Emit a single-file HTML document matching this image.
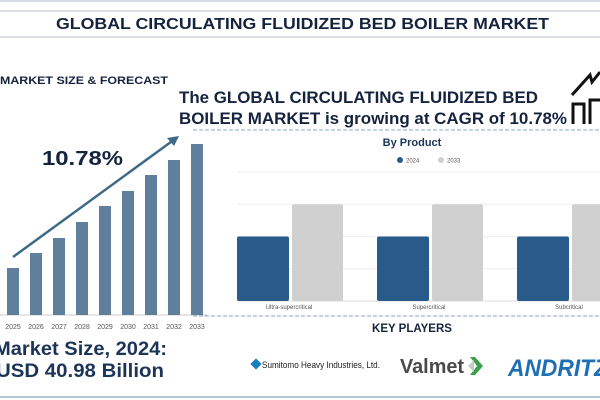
<!DOCTYPE html>
<html><head><meta charset="utf-8"><style>
html,body{margin:0;padding:0;background:#fff;width:600px;height:400px;overflow:hidden}
svg{display:block;font-family:"Liberation Sans","DejaVu Sans",sans-serif}
</style></head><body>
<svg id="root" width="600" height="400" viewBox="0 0 600 400">
<line x1="0" y1="1" x2="600" y2="1" stroke="#c9d3dc" stroke-width="1.5"/>
<line x1="0" y1="11" x2="600" y2="11" stroke="#b8c2cc" stroke-width="1"/>
<line x1="0" y1="37" x2="600" y2="37" stroke="#b8c2cc" stroke-width="1"/>
<text x="56" y="29" font-size="16" font-weight="bold" fill="#16233f" textLength="493" lengthAdjust="spacingAndGlyphs">GLOBAL CIRCULATING FLUIDIZED BED BOILER MARKET</text>
<text x="0" y="84" font-size="11" font-weight="bold" fill="#16233f" textLength="168" lengthAdjust="spacingAndGlyphs">MARKET SIZE &amp; FORECAST</text>
<text x="179" y="103" font-size="17" font-weight="bold" fill="#16233f" textLength="359" lengthAdjust="spacingAndGlyphs">The GLOBAL CIRCULATING FLUIDIZED BED</text>
<text x="179" y="124" font-size="17" font-weight="bold" fill="#16233f" textLength="388" lengthAdjust="spacingAndGlyphs">BOILER MARKET is growing at CAGR of 10.78%</text>
<g fill="none" stroke="#111" stroke-width="3">
<path d="M572 95 L590 75 L592 82 L600 72"/>
<path d="M573 124 L573 104 L584 104 L584 124"/>
<path d="M590 124 L590 100 L600 100"/>
</g>
<line x1="193" y1="130" x2="600" y2="130" stroke="#8aa6bf" stroke-width="1" stroke-dasharray="4,2"/>
<g id="left"></g>
<text x="42" y="165" font-size="20" font-weight="bold" fill="#16233f" textLength="81" lengthAdjust="spacingAndGlyphs">10.78%</text>
<text x="-6" y="355" font-size="19" font-weight="bold" fill="#1d3458" textLength="173" lengthAdjust="spacingAndGlyphs">Market Size, 2024:</text>
<text x="-4" y="377" font-size="19" font-weight="bold" fill="#1d3458" textLength="168" lengthAdjust="spacingAndGlyphs">USD 40.98 Billion</text>
<g id="right"></g>
<text x="412" y="146" text-anchor="middle" font-size="11" font-weight="bold" fill="#1d3458">By Product</text>
<line x1="193" y1="316" x2="600" y2="316" stroke="#8aa6bf" stroke-width="1" stroke-dasharray="4,2"/>
<text x="412" y="332" text-anchor="middle" font-size="11.5" font-weight="bold" fill="#16233f">KEY PLAYERS</text>
<g>
<rect x="252" y="360" width="8" height="8" fill="#1a7fc1" transform="rotate(45 256 364)"/>
<text x="262" y="368" font-size="9.5" fill="#222" textLength="118" lengthAdjust="spacingAndGlyphs">Sumitomo Heavy Industries, Ltd.</text>
</g>
<g>
<text x="400" y="373" font-size="20" font-weight="bold" fill="#4a4a4a" textLength="64" lengthAdjust="spacingAndGlyphs">Valmet</text>
<path d="M475 357 L483 366 L475 375 L470 375 L477 366 L470 357 Z" fill="#3aa048"/>
<path d="M468 366 L474 360 L474 372 Z" fill="#c8c8c8"/>
</g>
<text x="508" y="376" font-size="24" font-weight="bold" font-style="italic" fill="#1e6fb4" textLength="100" lengthAdjust="spacingAndGlyphs">ANDRITZ</text>
<line x1="0" y1="397" x2="600" y2="397" stroke="#b3c6d8" stroke-width="2"/>
</svg>
<script>
const years = ["2025","2026","2027","2028","2029","2030","2031","2032","2033"];
const forecastValues = [47,62,77,93,109,124,140,155,171];
const products = ["Ultra-supercritical","Supercritical","Subcritical"];
const values2024 = [50,50,50];
const values2033 = [75,75,75];
const productTicks = [0,25,50,75,100];
const NS="http://www.w3.org/2000/svg";
function mk(tag,attrs,parent){const e=document.createElementNS(NS,tag);for(const k in attrs)e.setAttribute(k,attrs[k]);parent.appendChild(e);return e;}
const L=document.getElementById('left');
const lx=i=>13+i*23, ly=v=>315-v*1.0;
mk('line',{x1:0,y1:315,x2:207,y2:315,stroke:'#ccc','stroke-width':1},L);
years.forEach((y,i)=>{
 const r=mk('rect',{x:lx(i)-6,y:ly(forecastValues[i]),width:12,height:315-ly(forecastValues[i]),fill:'#5f7f9c'},L);
 
 
 const t=mk('text',{x:lx(i),y:329,'text-anchor':'middle','font-size':7,fill:'#555'},L);t.textContent=y;
 
 
});
const ar=mk('g',{},L);


mk('line',{x1:13,y1:257,x2:175,y2:139,stroke:'#3d6a87','stroke-width':2.5},ar);
mk('path',{d:'M179 136 L167 138 L174 146 Z',fill:'#3d6a87'},ar);
const R=document.getElementById('right');
const base=301, scale=1.29;
const ry=v=>base-v*scale;
productTicks.forEach(t=>{
 const g=mk('line',{x1:237,y1:ry(t),x2:600,y2:ry(t),stroke:t===0?'#ddd':'#eee','stroke-width':1},R);
 
 
});
products.forEach((p,i)=>{
 const gx=237+i*140;
 const b=mk('rect',{x:gx,y:ry(values2024[i]),width:52,height:base-ry(values2024[i]),rx:2,fill:'#285b8a'},R);
 
 
 const c=mk('rect',{x:gx+55,y:ry(values2033[i]),width:51,height:base-ry(values2033[i]),rx:2,fill:'#d0d0d0'},R);
 
 
 const t=mk('text',{x:gx+52,y:309,'text-anchor':'middle','font-size':6,fill:'#555'},R);t.textContent=p;
 
 
});
const lg=mk('g',{},R);


mk('circle',{cx:400,cy:160,r:3,fill:'#285b8a'},lg);
const l1=mk('text',{x:406,y:162.5,'font-size':6,fill:'#555'},lg);l1.textContent='2024';
mk('circle',{cx:441,cy:160,r:3,fill:'#d0d0d0'},lg);
const l2=mk('text',{x:447,y:162.5,'font-size':6,fill:'#555'},lg);l2.textContent='2033';
</script>
</body></html>
